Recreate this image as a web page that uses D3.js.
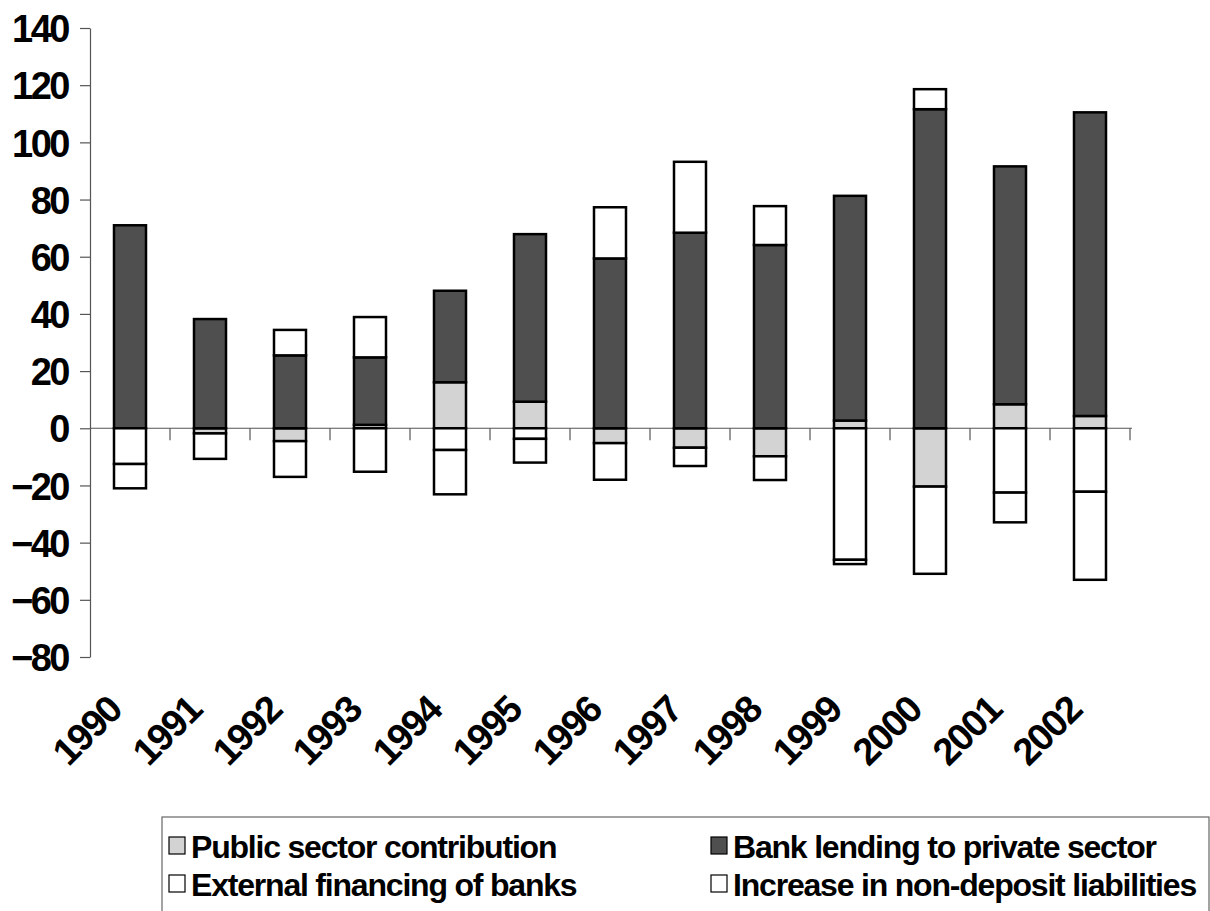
<!DOCTYPE html>
<html>
<head>
<meta charset="utf-8">
<script src="https://cdn.jsdelivr.net/npm/d3@7"></script>
<style>
  html, body { margin: 0; padding: 0; background: #fff; }
  svg { display: block; }
  text { font-family: "Liberation Sans", Arial, Helvetica, sans-serif; font-weight: bold; fill: #000; }
</style>
</head>
<body>
<svg id="chart" width="1210" height="911"></svg>
<script>
// Years on the category axis
const years = ["1990","1991","1992","1993","1994","1995","1996","1997","1998","1999","2000","2001","2002"];

// Contributions per year (stacked; positives upward, negatives downward)
const publicSector   = [0, -1.8, -4.5, 1.2, 16.1, 9.3, -5.2, -6.8, -9.8, 2.7, -20.4, 8.4, 4.3];
const bankLending    = [71, 38.2, 25.5, 23.6, 32, 58.6, 59.4, 68.4, 64.1, 78.6, 111.6, 83.2, 106.2];
const externalFin    = [-12.5, -8.9, -12.5, -15.2, -7.6, -3.7, -12.8, -6.4, -8.3, -46, -30.5, -22.5, -22.2];
const nonDeposit     = [-8.5, 0, 8.9, 14.1, -15.5, -8.3, 17.9, 24.8, 13.6, -1.5, 7.0, -10.4, -30.8];

const seriesNames = ["Public sector contribution", "Bank lending to private sector",
                     "External financing of banks", "Increase in non-deposit liabilities"];
const seriesKeys  = ["pub", "bank", "ext", "nondep"];
const seriesFill  = ["#d3d3d3", "#4f4f4f", "#ffffff", "#ffffff"];

const yTicks = [-80, -60, -40, -20, 0, 20, 40, 60, 80, 100, 120, 140];

const table = years.map((yr, i) => ({
  year: yr, pub: publicSector[i], bank: bankLending[i], ext: externalFin[i], nondep: nonDeposit[i]
}));

const svg = d3.select("#chart");

const x = d3.scaleBand().domain(years).range([90, 1130]).paddingInner(0.6).paddingOuter(0.3);
const y = d3.scaleLinear().domain([-80, 140]).range([657, 28]);

// Y axis
const yAxis = svg.append("g")
  .attr("transform", "translate(90,0)")
  .call(d3.axisLeft(y).tickValues(yTicks).tickSize(10).tickPadding(12).tickSizeOuter(0));
yAxis.select(".domain").attr("stroke", "#555").attr("stroke-width", 1.2);
yAxis.selectAll(".tick line").attr("stroke", "#555").attr("stroke-width", 1.2);
yAxis.selectAll(".tick text")
  .attr("font-size", 38).attr("font-family", "'Liberation Sans', Arial, sans-serif")
  .attr("font-weight", "bold").attr("fill", "#000")
  .attr("letter-spacing", "-2.5px").attr("dy", "0.36em");

// Zero line with category separators
const step = x.step();
const zeroY = y(0);
svg.append("line")
  .attr("x1", 90).attr("x2", 1132).attr("y1", zeroY).attr("y2", zeroY)
  .attr("stroke", "#555").attr("stroke-width", 1.2);
svg.append("g").selectAll("line")
  .data(years)
  .join("line")
  .attr("x1", d => x(d) + x.bandwidth() + (step - x.bandwidth()) / 2)
  .attr("x2", d => x(d) + x.bandwidth() + (step - x.bandwidth()) / 2)
  .attr("y1", zeroY).attr("y2", zeroY + 12)
  .attr("stroke", "#555").attr("stroke-width", 1.2);

// Stacked bars
const stack = d3.stack().keys(seriesKeys).offset(d3.stackOffsetDiverging);
const layers = stack(table);

svg.append("g").selectAll("g")
  .data(layers)
  .join("g")
  .attr("fill", (d, i) => seriesFill[i])
  .selectAll("rect")
  .data(d => d.filter(s => s[1] - s[0] !== 0))
  .join("rect")
  .attr("x", d => x(d.data.year))
  .attr("width", x.bandwidth())
  .attr("y", d => y(Math.max(d[0], d[1])))
  .attr("height", d => Math.abs(y(d[0]) - y(d[1])))
  .attr("stroke", "#000")
  .attr("stroke-width", 2.5);

// Category labels, rotated
svg.append("g").selectAll("text")
  .data(years)
  .join("text")
  .attr("transform", d => `translate(${x(d) + x.bandwidth() / 2 - 6},${712}) rotate(-45)`)
  .attr("text-anchor", "end")
  .attr("font-size", 38)
  .attr("letter-spacing", "-1.5px")
  .text(d => d);

// Legend
const legend = svg.append("g");
legend.append("rect")
  .attr("x", 162).attr("y", 817).attr("width", 1047).attr("height", 120)
  .attr("fill", "none").attr("stroke", "#666").attr("stroke-width", 1.2);

const legendPos = [
  { x: 169, y: 846 }, { x: 711, y: 846 },
  { x: 169, y: 884 }, { x: 711, y: 884 }
];
seriesNames.forEach((name, i) => {
  const p = legendPos[i];
  legend.append("rect")
    .attr("x", p.x).attr("y", p.y - 9).attr("width", 16).attr("height", 17)
    .attr("fill", seriesFill[i]).attr("stroke", "#000").attr("stroke-width", 1.2);
  legend.append("text")
    .attr("x", p.x + 22).attr("y", p.y).attr("dy", "0.36em")
    .attr("font-size", 32).attr("letter-spacing", "-1.2px")
    .text(name);
});
</script>
</body>
</html>
